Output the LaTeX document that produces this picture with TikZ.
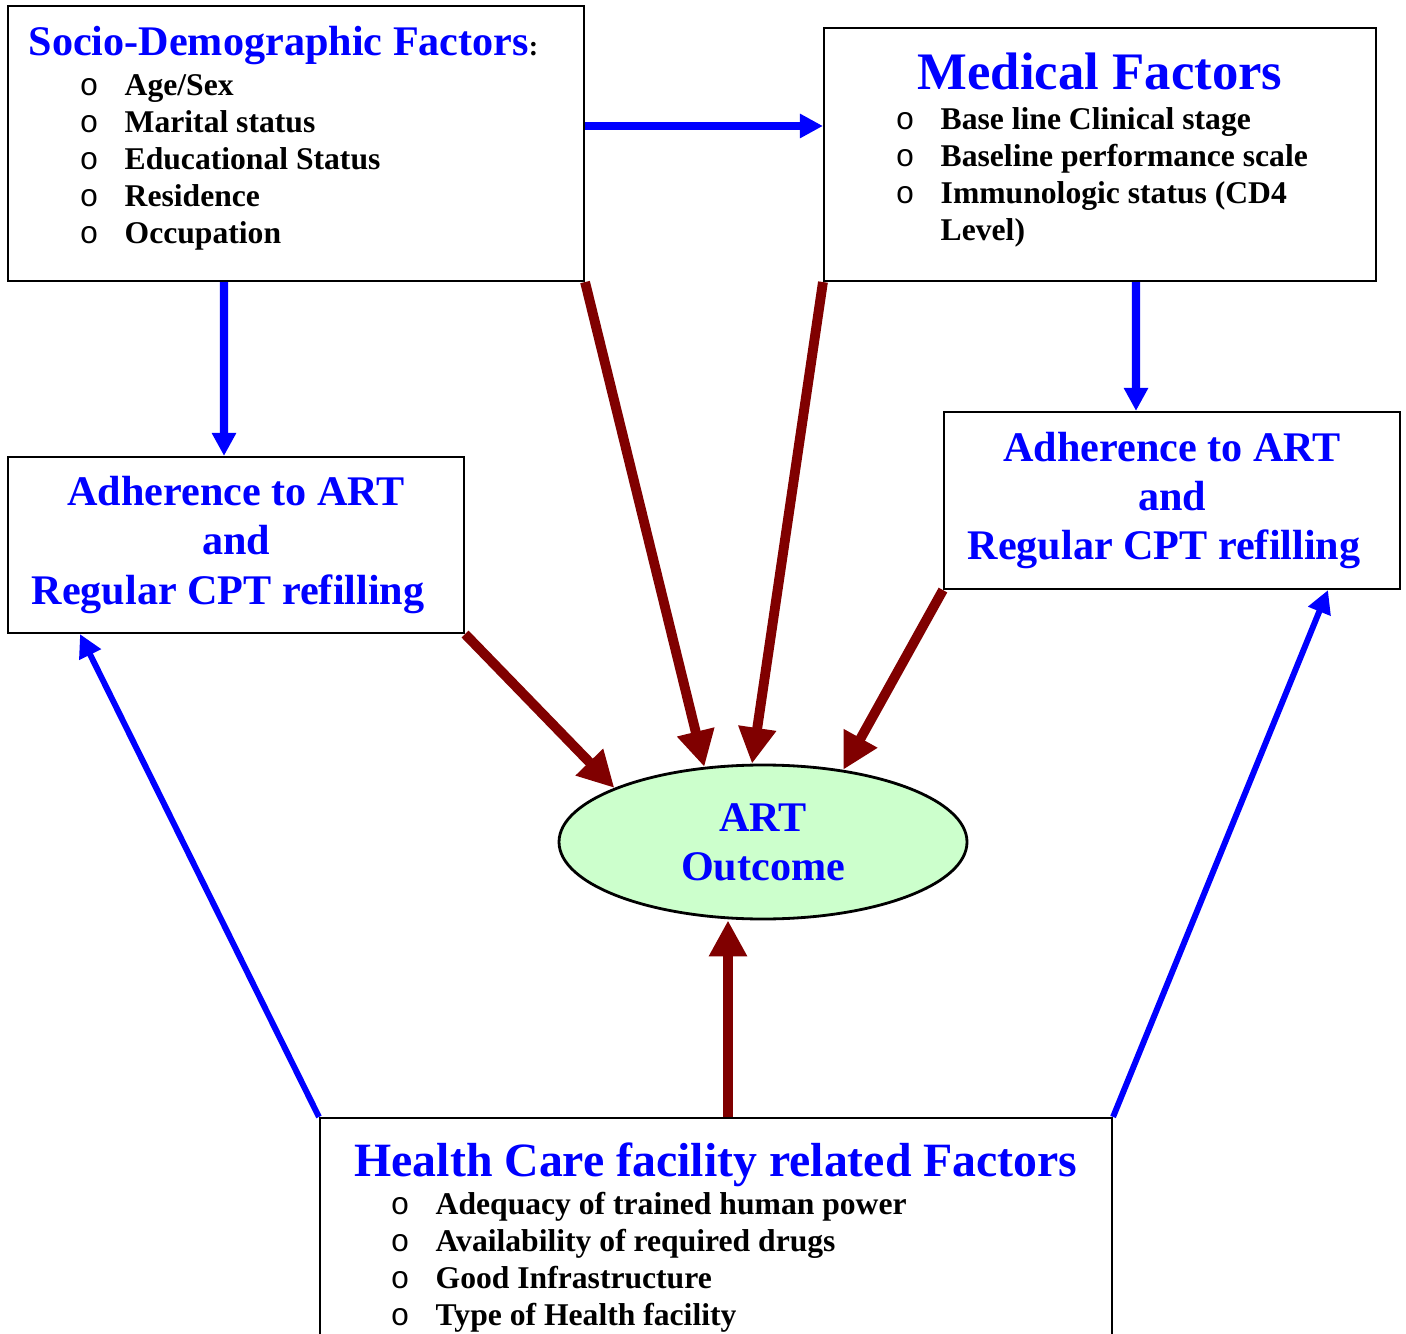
\documentclass[tikz,border=0pt]{standalone}
\usepackage{fontspec}
\setmainfont{Liberation Serif}
\newfontfamily\bulletfont{Liberation Mono}
\usetikzlibrary{shapes,arrows,positioning,fit,arrows.meta}
\definecolor{factorblue}{RGB}{0,0,255}
\definecolor{effectred}{RGB}{128,0,0}
\definecolor{outcomegreen}{RGB}{204,255,204}
\newcommand{\itembullet}{\makebox[0.45cm][l]{\bulletfont\mdseries o}}

\begin{document}
\begin{tikzpicture}[
    factorbox/.style={draw, line width=0.6pt, inner sep=0pt},
    heading/.style={text=factorblue, inner sep=0pt, font=\bfseries\fontsize{12}{14}\selectfont},
    itemlist/.style={align=left, inner sep=0pt, font=\bfseries\fontsize{9}{10.5}\selectfont},
    influence/.style={draw=factorblue, line width=2.3pt, -{Triangle[length=0.23cm,width=0.23cm]}},
    effect/.style={draw=effectred, line width=2.8pt, -{Triangle[length=0.36cm,width=0.36cm]}},
]
        \useasboundingbox (0,0) rectangle (14.06,13.33);
        \clip (0,0) rectangle (14.06,13.33);
        % Draw the factor boxes
        \node[factorbox, minimum width=5.76cm, minimum height=2.75cm] (socio) at (2.96,11.895) {};
        \node[factorbox, minimum width=5.52cm, minimum height=2.53cm] (medical) at (11.00,11.785) {};
        \node[factorbox, minimum width=7.92cm, minimum height=2.45cm] (health) at (7.16,0.925) {};
        % Draw socio-demographic text
        \node[heading, anchor=base west] (sociotitle) at (0.28,12.77) {Socio-Demographic Factors{\color{black}\fontsize{8}{8}\selectfont:}};
        \node[itemlist, anchor=north west] (sociolist) at (0.79,12.59) {
            \itembullet Age/Sex\\
            \itembullet Marital status\\
            \itembullet Educational Status\\
            \itembullet Residence\\
            \itembullet Occupation
        };
        % Draw medical text
        \node[heading, font=\bfseries\fontsize{15}{18}\selectfont, anchor=base] (medtitle) at (11.00,12.43) {Medical Factors};
        \node[itemlist, anchor=north west] (medlist) at (8.95,12.26) {
            \itembullet Base line Clinical stage\\
            \itembullet Baseline performance scale\\
            \itembullet Immunologic status (CD4\\
            \hspace*{0.45cm}Level)
        };
        % Draw health care text
        \node[heading, font=\bfseries\fontsize{13.6}{16}\selectfont, anchor=base] (healthtitle) at (7.16,1.57) {Health Care facility related Factors};
        \node[itemlist, anchor=north west] (healthlist) at (3.90,1.41) {
            \itembullet Adequacy of trained human power\\
            \itembullet Availability of required drugs\\
            \itembullet Good Infrastructure\\
            \itembullet Type of Health facility
        };
        % Draw adherence boxes
        \node[factorbox, heading, align=center, minimum width=4.56cm, minimum height=1.76cm] (adhleft) at (2.36,7.88) {Adherence to ART\\and\\Regular CPT refilling\hspace*{1.6mm}};
        \node[factorbox, heading, align=center, minimum width=4.56cm, minimum height=1.77cm] (adhright) at (11.72,8.325) {Adherence to ART\\and\\Regular CPT refilling\hspace*{1.6mm}};
        % Draw outcome
        \node[ellipse, draw, line width=0.8pt, fill=outcomegreen, heading, align=center, minimum width=4.08cm, minimum height=1.54cm] (outcome) at (7.63,4.91) {ART\\Outcome};
        % Draw blue links
        \draw[influence] ([yshift=1.75mm]socio.east) -- ([yshift=2.85mm]medical.west);
        \draw[influence] ([xshift=-7.2mm]socio.south) -- ([xshift=-1.2mm]adhleft.north);
        \draw[influence] ([xshift=3.6mm]medical.south) -- ([xshift=-3.6mm]adhright.north);
        \draw[influence, line width=1.7pt] (health.north west) -- ([xshift=-1.56cm]adhleft.south);
        \draw[influence, line width=1.7pt] (health.north east) -- ([xshift=1.56cm]adhright.south);
        % Draw red links to outcome
        \draw[effect] (socio.south east) -- (outcome.128);
        \draw[effect] (medical.south west) -- (outcome.98);
        \draw[effect] (adhleft.south east) -- (outcome.160);
        \draw[effect] (adhright.south west) -- (outcome.42);
        \draw[effect] ([xshift=1.2mm]health.north) -- ([xshift=1.2mm]health.north |- outcome.south);
    \end{tikzpicture}
\end{document}
